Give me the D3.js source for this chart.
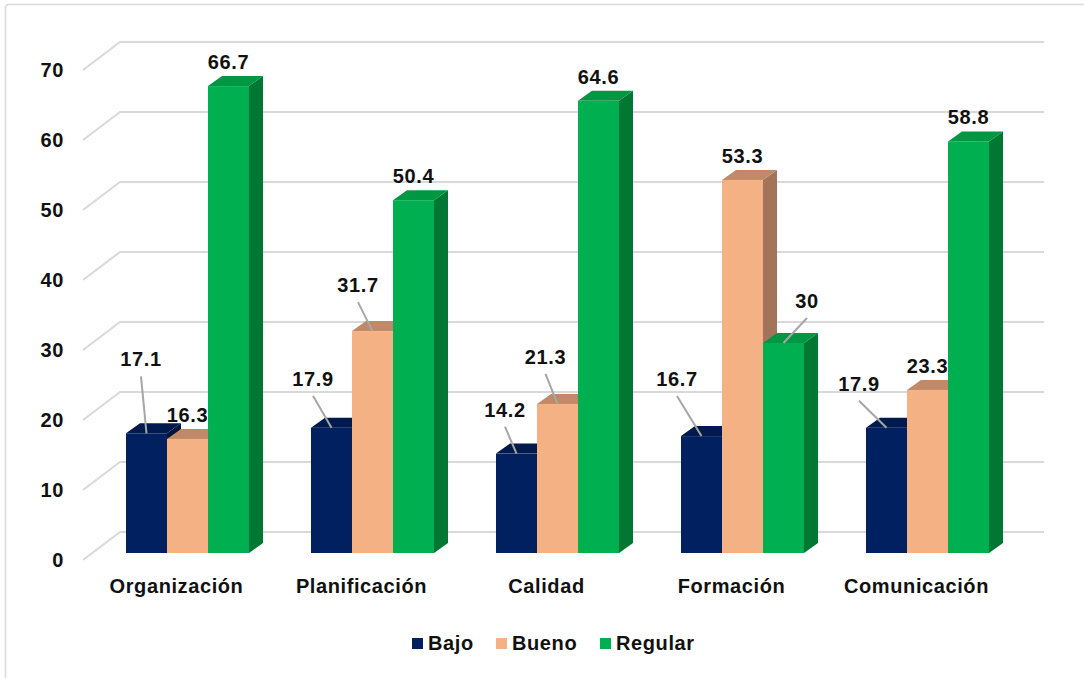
<!DOCTYPE html>
<html>
<head>
<meta charset="utf-8">
<script src="https://cdn.jsdelivr.net/npm/d3@7"></script>
<style>
  html, body { margin: 0; padding: 0; background: #ffffff; }
  svg { display: block; }
  text { font-family: "Liberation Sans", Arial, sans-serif; font-weight: bold; fill: #111; }
</style>
</head>
<body>
<svg id="chart" width="1084" height="678"></svg>
<script>
// Data
const categories = ["Organización", "Planificación", "Calidad", "Formación", "Comunicación"];
const seriesNames = ["Bajo", "Bueno", "Regular"];
const bajo = [17.1, 17.9, 14.2, 16.7, 17.9];
const bueno = [16.3, 31.7, 21.3, 53.3, 23.3];
const regular = [66.7, 50.4, 64.6, 30, 58.8];
const yTicks = [0, 10, 20, 30, 40, 50, 60, 70];

const seriesValues = [bajo, bueno, regular];

// Styling
const faceColors = {
  Bajo:    { front: "#002060", top: "#001a4d", side: "#00143c" },
  Bueno:   { front: "#F4B183", top: "#c08a68", side: "#a3745a" },
  Regular: { front: "#00B050", top: "#009743", side: "#007732" }
};
const FONT_SIZE = 20;
const LETTER_SPACING = 0.6;

// Labels that sit away from their bar, joined by a leader line: [dx, dy of baseline]
const leaderLabels = {
  "Organización|Bajo": [-5.5, -67],
  "Planificación|Bajo": [-18.5, -42],
  "Planificación|Bueno": [-14.5, -39],
  "Calidad|Bajo": [-11.5, -37],
  "Calidad|Bueno": [-12, -40],
  "Formación|Bajo": [-24.5, -50],
  "Formación|Regular": [23.5, -35],
  "Comunicación|Bajo": [-27.5, -37]
};

const svg = d3.select("#chart");

// Outer frame
svg.append("rect")
  .attr("x", 5.5).attr("y", 4.5)
  .attr("width", 1090).attr("height", 690)
  .attr("rx", 3)
  .attr("fill", "#ffffff")
  .attr("stroke", "#d9d9d9")
  .attr("stroke-width", 1.5);

// Oblique projection: floor depth from front plane to back wall
const wallDX = 37, wallDY = -28;
const barShiftX = 12, barShiftY = -7;   // bars stand a little behind the front plane
const barDX = 14, barDY = -10;          // bar depth

const x = d3.scaleBand()
  .domain(categories)
  .range([83, 1008])
  .paddingInner(0.335)
  .paddingOuter(0.1675);

const xs = d3.scaleBand()
  .domain(seriesNames)
  .range([0, x.bandwidth()]);

const y = d3.scaleLinear().domain([0, 70]).range([560, 70]);

// Gridlines: front edge slanting back to the wall, then across the wall
const grid = svg.append("g");
yTicks.forEach(t => {
  const yf = y(t);
  grid.append("polyline")
    .attr("points", [[83, yf], [83 + wallDX, yf + wallDY], [1044, yf + wallDY]].map(p => p.join(",")).join(" "))
    .attr("fill", "none")
    .attr("stroke", "#d9d9d9")
    .attr("stroke-width", 2);
});

function styleText(sel) {
  return sel.attr("font-size", FONT_SIZE).attr("letter-spacing", LETTER_SPACING);
}

// Y axis tick labels
svg.append("g").selectAll("text")
  .data(yTicks)
  .join("text")
  .attr("x", 64)
  .attr("y", d => y(d))
  .attr("dy", "0.35em")
  .attr("text-anchor", "end")
  .call(styleText)
  .text(d => d);

// Category labels
svg.append("g").selectAll("text")
  .data(categories)
  .join("text")
  .attr("x", d => x(d) + x.bandwidth() / 2 + 1)
  .attr("y", 593)
  .attr("text-anchor", "middle")
  .call(styleText)
  .text(d => d);

// Bar records
const bars = [];
categories.forEach((c, ci) => {
  seriesNames.forEach((s, si) => {
    bars.push({ category: c, series: s, value: seriesValues[si][ci] });
  });
});

function barGeom(d) {
  const x0 = x(d.category) + xs(d.series) + barShiftX;
  const x1 = x0 + xs.bandwidth();
  const bottom = y(0) + barShiftY;
  const top = y(d.value) + barShiftY;
  return { x0, x1, top, bottom, cx: (x0 + x1) / 2 };
}

function drawBar(g, d) {
  const b = barGeom(d);
  const col = faceColors[d.series];
  const pts = arr => arr.map(p => p.join(",")).join(" ");
  g.append("polygon")
    .attr("points", pts([[b.x1, b.top], [b.x1 + barDX, b.top + barDY], [b.x1 + barDX, b.bottom + barDY], [b.x1, b.bottom]]))
    .attr("fill", col.side);
  g.append("polygon")
    .attr("points", pts([[b.x0, b.top], [b.x1, b.top], [b.x1 + barDX, b.top + barDY], [b.x0 + barDX, b.top + barDY]]))
    .attr("fill", col.top);
  g.append("rect")
    .attr("x", b.x0).attr("y", b.top)
    .attr("width", b.x1 - b.x0).attr("height", b.bottom - b.top)
    .attr("fill", col.front);
}

function drawLabel(g, d) {
  const b = barGeom(d);
  const key = d.category + "|" + d.series;
  const off = leaderLabels[key];
  if (off) {
    const lx = b.cx + off[0], ly = b.top + off[1];
    g.append("line")
      .attr("x1", lx).attr("y1", ly + 10)
      .attr("x2", b.cx).attr("y2", b.top)
      .attr("stroke", "#a6a6a6")
      .attr("stroke-width", 2);
    g.append("text")
      .attr("x", lx).attr("y", ly)
      .attr("text-anchor", "middle")
      .call(styleText)
      .text(d.value);
  } else {
    g.append("text")
      .attr("x", b.cx).attr("y", b.top - 17)
      .attr("text-anchor", "middle")
      .call(styleText)
      .text(d.value);
  }
}

// Bajo and Bueno bars, their labels, then Regular bars over them
const layerA = svg.append("g");
bars.filter(d => d.series !== "Regular").forEach(d => drawBar(layerA, d));
const labelsA = svg.append("g");
bars.filter(d => d.series !== "Regular").forEach(d => drawLabel(labelsA, d));
const layerB = svg.append("g");
bars.filter(d => d.series === "Regular").forEach(d => drawBar(layerB, d));
const labelsB = svg.append("g");
bars.filter(d => d.series === "Regular").forEach(d => drawLabel(labelsB, d));

// Legend
const legendX = [412, 496, 600];
const legend = svg.append("g");
seriesNames.forEach((s, i) => {
  legend.append("rect")
    .attr("x", legendX[i]).attr("y", 638)
    .attr("width", 11).attr("height", 11)
    .attr("fill", faceColors[s].front);
  legend.append("text")
    .attr("x", legendX[i] + 16).attr("y", 650)
    .call(styleText)
    .text(s);
});
</script>
</body>
</html>
